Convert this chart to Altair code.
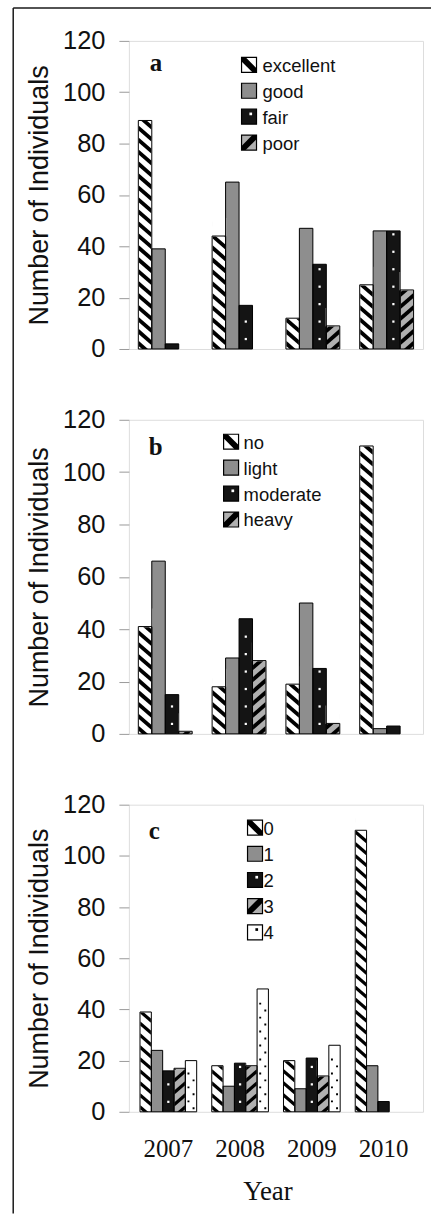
import altair as alt
import pandas as pd

# ---------------- data ----------------
years = ["2007", "2008", "2009", "2010"]

cond_names = ["excellent", "good", "fair", "poor"]
cond_excellent = [89, 44, 12, 25]
cond_good = [39, 65, 47, 46]
cond_fair = [2, 17, 33, 46]
cond_poor = [0, 0, 9, 23]

inf_names = ["no", "light", "moderate", "heavy"]
inf_no = [41, 18, 19, 110]
inf_light = [66, 29, 50, 2]
inf_moderate = [15, 44, 25, 3]
inf_heavy = [1, 28, 4, 0]

cls_names = ["0", "1", "2", "3", "4"]
cls_0 = [39, 18, 20, 110]
cls_1 = [24, 10, 9, 18]
cls_2 = [16, 19, 21, 4]
cls_3 = [17, 18, 14, 0]
cls_4 = [20, 48, 26, 0]

y_ticks = [0, 20, 40, 60, 80, 100, 120]

# ---------------- styles ----------------
SANS = "Liberation Sans"
SERIF = "Liberation Serif"
KIND_FILL = {"hatch_down": "white", "checker": "#8e8e8e", "dots_white": "#141414",
             "hatch_up": "#b0b0b0", "dots_black": "white"}
kinds_ab = ["hatch_down", "checker", "dots_white", "hatch_up"]
kinds_c = kinds_ab + ["dots_black"]

TILE_H = 1.175  # half vertical extent of a stripe tile, in shape units
PATH_DOWN = "M-0.92,-1.175 L-0.92,-0.425 L0.92,1.175 L0.92,0.425 Z"
PATH_UP = "M-0.92,1.175 L-0.92,0.425 L0.92,-1.175 L0.92,-0.425 Z"
PATH_DOTS = "M-0.62,-0.78 h0.34 v0.34 h-0.34 Z M0.28,0.44 h0.34 v0.34 h-0.34 Z"
LEG_DOWN = "M-1,-1 L-0.45,-1 L1,0.45 L1,1 L0.45,1 L-1,-0.45 Z"
LEG_UP = "M-1,1 L-1,0.45 L0.45,-1 L1,-1 L1,-0.45 L-0.45,1 Z"
LEG_DOT = "M0.05,-0.55 h0.36 v0.36 h-0.36 Z"

W = 295


def long_df(names, cols):
    rows = []
    for name, vals in zip(names, cols):
        for yr, v in zip(years, vals):
            rows.append({"year": yr, "series": name, "value": v})
    return pd.DataFrame(rows)


yaxis = alt.Axis(values=y_ticks, title="Number of Individuals", titleFont=SANS,
                 titleFontSize=27, titleFontWeight="normal", titleColor="#111",
                 titlePadding=9, labelFont=SANS, labelFontSize=25.5, labelColor="#111",
                 labelPadding=14, tickSize=10, tickColor="#9a9a9a", tickWidth=1,
                 domain=False, grid=False)

xaxis = alt.Axis(title="Year", labelAngle=0, labelFont=SERIF, labelFontSize=25,
                 labelColor="#111", labelPadding=25, ticks=False, domain=False,
                 titleFont=SERIF, titleFontSize=27, titleFontWeight="normal",
                 titleColor="#111", titlePadding=17, titleX=139)


def make_panel(df, names, kinds, letter, cfg, show_x=False, frame=False):
    H = cfg["height"]
    ppu = H / 120.0
    step = W / (4 - cfg["pi"] + 2 * cfg["po"])
    bw = step * (1 - cfg["pi"]) / len(names)
    half = bw / 2.0
    S = bw * bw

    xenc = alt.X("year:N", scale=alt.Scale(domain=years, paddingInner=cfg["pi"],
                                           paddingOuter=cfg["po"]),
                 axis=xaxis if show_x else None)
    xoff = alt.XOffset("series:N", scale=alt.Scale(domain=names))

    def yenc(field):
        return alt.Y(f"{field}:Q", scale=alt.Scale(domain=[0, 120], nice=False), axis=yaxis)

    fill = alt.Fill("series:N", scale=alt.Scale(domain=names,
                                               range=[KIND_FILL[k] for k in kinds]),
                    legend=None)

    def sel(kind):
        return [n for n, k in zip(names, kinds) if k == kind]

    base = alt.Chart(df).transform_filter("datum.value > 0")
    layers = [base.mark_bar(strokeWidth=0).encode(x=xenc, xOffset=xoff, y=yenc("value"), fill=fill)]

    hp = 12.0 / ppu
    hh = TILE_H * half / ppu
    for kind, path in [("hatch_down", PATH_DOWN), ("hatch_up", PATH_UP)]:
        ser = sel(kind)
        layers.append(
            base.transform_filter(alt.FieldOneOfPredicate(field="series", oneOf=ser))
            .transform_calculate(ys=f"sequence(0, datum.value + {hh:.3f}, {hp:.3f})")
            .transform_flatten(["ys"])
            .mark_point(shape=path, size=S, filled=True, fill="black", strokeWidth=0,
                        opacity=1, clip=True)
            .encode(x=xenc, xOffset=xoff, y=yenc("ys"))
        )
    hatched = sel("hatch_down") + sel("hatch_up")
    layers.append(
        base.transform_filter(alt.FieldOneOfPredicate(field="series", oneOf=hatched))
        .transform_calculate(top=f"datum.value + {2 * hh + 0.6:.3f}")
        .mark_bar(fill="white", stroke="white", strokeWidth=1.2, opacity=1)
        .encode(x=xenc, xOffset=xoff, y=yenc("value"), y2="top:Q")
    )
    # white dots on black
    ser = sel("dots_white")
    layers.append(
        base.transform_filter(alt.FieldOneOfPredicate(field="series", oneOf=ser))
        .transform_calculate(ys=f"sequence({10 / ppu:.3f}, datum.value - {3 / ppu:.3f}, {17.5 / ppu:.3f})")
        .transform_flatten(["ys"])
        .mark_point(shape="square", size=5, filled=True, fill="white", strokeWidth=0, opacity=1)
        .encode(x=xenc, xOffset=xoff, y=yenc("ys"))
    )
    ser = sel("dots_black")
    if ser:
        layers.append(
            base.transform_filter(alt.FieldOneOfPredicate(field="series", oneOf=ser))
            .transform_calculate(ys=f"sequence({7 / ppu:.3f}, datum.value - {5 / ppu:.3f}, {14 / ppu:.3f})")
            .transform_flatten(["ys"])
            .mark_point(shape=PATH_DOTS, size=S, filled=True, fill="black", strokeWidth=0, opacity=1)
            .encode(x=xenc, xOffset=xoff, y=yenc("ys"))
        )
    layers.append(base.mark_bar(fillOpacity=0, stroke="black", strokeWidth=1)
                  .encode(x=xenc, xOffset=xoff, y=yenc("value")))
    data_group = alt.layer(*layers)

    # ---- legend ----
    ldf = pd.DataFrame({"series": names})
    lb = alt.Chart(ldf)
    ly = alt.Y("series:N", scale=alt.Scale(domain=names, range=[cfg["ly0"], cfg["ly1"]],
                                          padding=0), axis=None)
    sx = alt.value(cfg["lsx"])
    leg = [lb.mark_square(size=225, opacity=1, strokeWidth=0).encode(x=sx, y=ly, fill=fill)]
    for kind, path, col in [("hatch_down", LEG_DOWN, "black"), ("hatch_up", LEG_UP, "black"),
                            ("dots_white", LEG_DOT, "white"), ("dots_black", LEG_DOT, "black")]:
        ser = sel(kind)
        if not ser:
            continue
        leg.append(lb.transform_filter(alt.FieldOneOfPredicate(field="series", oneOf=ser))
                   .mark_point(shape=path, size=225, filled=True, fill=col, strokeWidth=0, opacity=1)
                   .encode(x=sx, y=ly))
    leg.append(lb.mark_square(size=225, filled=False, color="black", stroke="black",
                              strokeWidth=1.2, opacity=1).encode(x=sx, y=ly))
    leg.append(lb.mark_text(align="left", baseline="middle", font=SANS, fontSize=18.5,
                            color="#111", dy=1)
               .encode(x=alt.value(cfg["ltx"]), y=ly, text="series:N"))
    leg.append(alt.Chart(pd.DataFrame({"t": [letter]}))
               .mark_text(align="left", baseline="alphabetic", font=SERIF, fontWeight="bold",
                          fontSize=25, color="#111")
               .encode(x=alt.value(cfg["lx"]), y=alt.value(cfg["lyb"]), text="t:N"))
    if frame:
        fdf = pd.DataFrame({"k": [0]})
        leg.append(alt.Chart(fdf).mark_rule(color="#1a1a1a", strokeWidth=1.5)
                   .encode(x=alt.value(-116), y=alt.value(-33), y2=alt.value(1176)))
        leg.append(alt.Chart(fdf).mark_rule(color="#1a1a1a", strokeWidth=1.5)
                   .encode(x=alt.value(-116), x2=alt.value(303), y=alt.value(-33)))
    legend_group = alt.layer(*leg)

    return alt.layer(data_group, legend_group).resolve_scale(y="independent").properties(
        width=W, height=H)


df_a = long_df(cond_names, [cond_excellent, cond_good, cond_fair, cond_poor])
df_b = long_df(inf_names, [inf_no, inf_light, inf_moderate, inf_heavy])
df_c = long_df(cls_names, [cls_0, cls_1, cls_2, cls_3, cls_4])

cfg_a = dict(height=309, pi=0.27, po=0.128, lsx=120.5, ltx=134, ly0=24, ly1=102, lx=21, lyb=30.5)
cfg_b = dict(height=315, pi=0.27, po=0.128, lsx=102.5, ltx=115, ly0=22, ly1=100, lx=20, lyb=35.5)
cfg_c = dict(height=308, pi=0.21, po=0.155, lsx=126.5, ltx=135, ly0=23, ly1=128, lx=20, lyb=34)

pa = make_panel(df_a, cond_names, kinds_ab, "a", cfg_a, frame=True)
pb = make_panel(df_b, inf_names, kinds_ab, "b", cfg_b)
pc = make_panel(df_c, cls_names, kinds_c, "c", cfg_c, show_x=True)

chart = (
    alt.vconcat(pa, pb, pc, spacing=71, bounds="flush")
    .resolve_scale(x="independent", y="independent", fill="independent", xOffset="independent")
    .properties(padding={"left": 11.25, "top": 4.25, "right": 0, "bottom": 0})
    .configure_view(stroke="#a0a0a0", strokeWidth=1)
    .configure(background="white")
)

chart.save("out.html", embed_options={"renderer": "svg", "actions": False})
